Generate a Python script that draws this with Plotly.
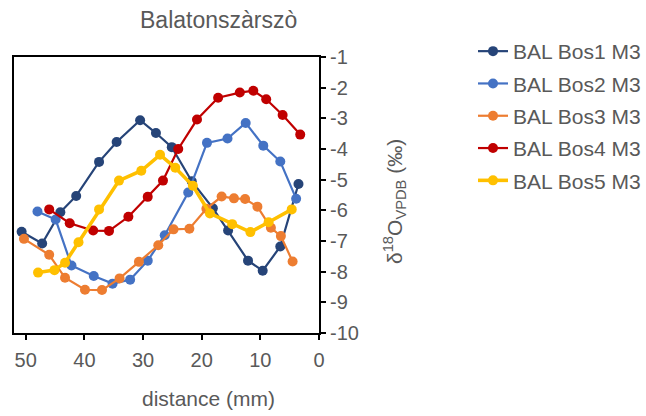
import plotly.graph_objects as go

# Distance (mm) and delta18O values
bos1_x = [50.7, 47.2, 44.1, 41.4, 37.5, 34.5, 30.5, 27.8, 25.1, 21.7, 18.1, 15.5, 12.1, 9.6, 6.6, 3.5]
bos1_y = [-6.70, -7.08, -6.06, -5.53, -4.42, -3.77, -3.06, -3.48, -3.94, -5.05, -5.93, -6.66, -7.64, -7.97, -7.18, -5.14]

bos2_x = [48.0, 44.9, 42.2, 38.4, 35.2, 32.2, 29.2, 26.3, 22.3, 19.1, 15.6, 12.5, 9.5, 6.6, 3.9]
bos2_y = [-6.04, -6.30, -7.80, -8.14, -8.39, -8.26, -7.64, -6.81, -5.42, -3.80, -3.66, -3.15, -3.89, -4.41, -5.62]

bos3_x = [50.3, 46.0, 43.3, 39.9, 37.0, 34.0, 30.7, 27.4, 24.8, 22.1, 19.2, 16.6, 14.5, 12.6, 10.5, 8.2, 6.5, 4.5]
bos3_y = [-6.93, -7.45, -8.20, -8.59, -8.60, -8.22, -7.68, -7.14, -6.62, -6.60, -5.95, -5.55, -5.61, -5.63, -5.88, -6.57, -6.84, -7.67]

bos4_x = [46.0, 42.5, 38.5, 35.8, 32.5, 29.2, 26.6, 24.0, 20.8, 17.2, 13.5, 11.2, 9.0, 6.2, 3.2]
bos4_y = [-5.97, -6.42, -6.66, -6.67, -6.21, -5.56, -5.03, -4.00, -3.04, -2.33, -2.16, -2.10, -2.38, -2.89, -3.53]

bos5_x = [47.9, 45.1, 43.3, 41.0, 37.5, 34.1, 30.3, 27.1, 24.5, 21.5, 18.6, 14.8, 11.7, 8.6, 4.65]
bos5_y = [-8.03, -7.95, -7.71, -7.04, -5.97, -5.03, -4.71, -4.19, -4.61, -5.20, -6.10, -6.45, -6.71, -6.39, -5.97]

names = ["BAL Bos1 M3", "BAL Bos2 M3", "BAL Bos3 M3", "BAL Bos4 M3", "BAL Bos5 M3"]
colors = ["#264478", "#4472C4", "#ED7D31", "#C00000", "#FFC000"]
widths = [2.2, 2.2, 2.2, 2.2, 3.6]

xs = [bos1_x, bos2_x, bos3_x, bos4_x, bos5_x]
ys = [bos1_y, bos2_y, bos3_y, bos4_y, bos5_y]

y_ticks = [-1, -2, -3, -4, -5, -6, -7, -8, -9, -10]
y_ticktext = ["-1", "-2", "-3", "-4", "-5", "-6", "-7", "-8", "-9", "-10"]
x_ticks = [50, 40, 30, 20, 10, 0]

grey = "#595959"

fig = go.Figure()
for i in range(5):
    fig.add_trace(go.Scatter(
        x=xs[i], y=ys[i], name=names[i], mode="lines+markers",
        line=dict(color=colors[i], width=widths[i]),
        marker=dict(color=colors[i], size=10),
        legendgroup=names[i],
    ))

fig.update_layout(
    width=646, height=416,
    margin=dict(l=14, r=327, t=57, b=83, autoexpand=False),
    plot_bgcolor="white", paper_bgcolor="white",
    font=dict(family="Liberation Sans, Arial, sans-serif", size=20, color=grey),
    showlegend=True,
    legend=dict(x=473 / 646, y=1 - 31 / 416, xref="container", yref="container",
                xanchor="left", yanchor="top",
                font=dict(size=21, color=grey), tracegroupgap=2,
                bgcolor="rgba(0,0,0,0)"),
    xaxis=dict(range=[52, 0], tickvals=x_ticks, showgrid=False, zeroline=False,
               showline=True, linecolor="black", linewidth=2, mirror=True,
               ticks="outside", ticklen=5, tickwidth=2, tickcolor="black",
               tickfont=dict(size=20, color=grey), ticklabelstandoff=3),
    yaxis=dict(range=[-10, -1], tickvals=y_ticks, ticktext=y_ticktext,
               side="right", showgrid=False,
               zeroline=False, showline=True, linecolor="black", linewidth=2,
               mirror=True, ticks="outside", ticklen=5, tickwidth=2,
               tickcolor="black", tickfont=dict(size=20, color=grey)),
    annotations=[
        dict(text="Balatonszàrszò", x=218, y=20, showarrow=False,
             font=dict(size=23, color=grey)),
        dict(text="distance (mm)", x=208, y=398, showarrow=False,
             font=dict(size=21, color=grey)),
        dict(text="δ<sup>18</sup>O<sub>VPDB</sub> (‰)", x=394, y=202,
             textangle=-90, showarrow=False, font=dict(size=21, color=grey)),
    ],
)

# convert pixel-placed annotations into paper coordinates
pw = 646 - 14 - 327
ph = 416 - 57 - 83
new_ann = []
for a in fig.layout.annotations:
    px, py = a.x, a.y
    a.x = (px - 14) / pw
    a.y = (416 - 83 - py) / ph
    a.xref = "paper"
    a.yref = "paper"
    a.xanchor = "center"
    a.yanchor = "middle"
    new_ann.append(a)
fig.layout.annotations = new_ann

fig.write_html("out.html")
